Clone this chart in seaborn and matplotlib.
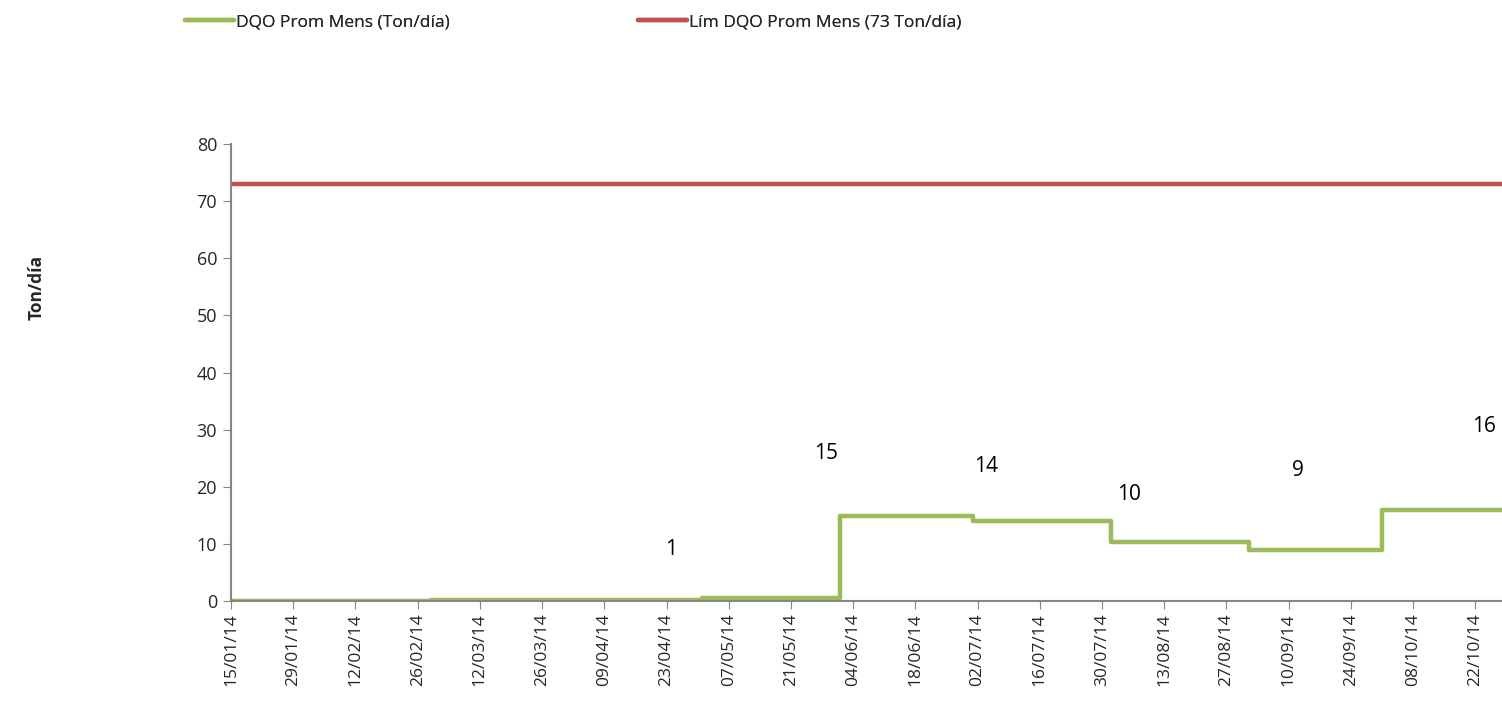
import pandas as pd
import numpy as np
import matplotlib.pyplot as plt
import matplotlib.dates as mdates
import seaborn as sns

# Datos: promedio mensual de DQO (Ton/día), un valor por mes
fechas_mes = ["2014-01-15", "2014-02-01", "2014-03-01", "2014-04-01", "2014-05-01",
              "2014-06-01", "2014-07-01", "2014-08-01", "2014-09-01", "2014-10-01",
              "2014-10-31"]
dqo_prom = [0.05, 0.05, 0.1, 0.2, 0.6, 14.8, 14.0, 10.3, 9.0, 15.9, 15.9]

fechas_lim = ["2014-01-15", "2014-10-31"]
lim_dqo = [73, 73]

# etiquetas de datos (valores redondeados)
etiquetas = ["1", "15", "14", "10", "9", "16"]
fechas_etiq = ["2014-04-24", "2014-05-29", "2014-07-04", "2014-08-05", "2014-09-12", "2014-10-24"]

df = pd.DataFrame({"fecha": pd.to_datetime(fechas_mes), "dqo": dqo_prom})
df_lim = pd.DataFrame({"fecha": pd.to_datetime(fechas_lim), "lim": lim_dqo})

sns.set_style("white")
plt.rcParams["font.family"] = ["Open Sans", "DejaVu Sans"]

verde = "#9BBB59"
rojo = "#C0504D"
gris = "#868686"

fig = plt.figure(figsize=(15.02, 7.09), dpi=100)
ax = fig.add_axes([231 / 1502, 1 - 601 / 709, (1502 - 231) / 1502, (601 - 144) / 709])

sns.lineplot(data=df, x="fecha", y="dqo", ax=ax, color=verde, linewidth=3.2,
             drawstyle="steps-post", label="DQO Prom Mens (Ton/día)")
sns.lineplot(data=df_lim, x="fecha", y="lim", ax=ax, color=rojo, linewidth=3.2,
             label="Lím DQO Prom Mens (73 Ton/día)")

# etiquetas de datos
pos_y = [9.1, 25.9, 23.5, 18.7, 22.9, 30.5]
for txt, f, yy in zip(etiquetas, fechas_etiq, pos_y):
    ax.text(pd.Timestamp(f), yy, txt, ha="center", va="center", fontsize=15, color="black")

ax.set_xlim(pd.Timestamp("2014-01-15"), pd.Timestamp("2014-10-28"))
ax.set_ylim(0, 80)
ax.set_yticks(range(0, 81, 10))
ticks = pd.date_range("2014-01-15", "2014-10-28", freq="14D")
ax.set_xticks(ticks)
ax.xaxis.set_major_formatter(mdates.DateFormatter("%d/%m/%y"))
ax.tick_params(axis="x", rotation=90, labelsize=12.5, length=6, color=gris, direction="out", bottom=True, pad=3)
ax.tick_params(axis="y", labelsize=13, length=6, color=gris, direction="out", left=True, pad=4)
ax.set_xlabel("")
ax.set_ylabel("")
for s in ["top", "right"]:
    ax.spines[s].set_visible(False)
for s in ["left", "bottom"]:
    ax.spines[s].set_color(gris)
    ax.spines[s].set_linewidth(1.5)

fig.text(37 / 1502, 1 - 288 / 709, "Ton/día", rotation=90, ha="center", va="center",
         fontsize=12.5, fontweight="bold")

# leyenda: dos entradas separadas en la parte superior
h, l = ax.get_legend_handles_labels()
ax.get_legend().remove()
for i, x0 in enumerate([185, 638]):
    leg = fig.legend([h[i]], [l[i]], loc="center left", bbox_to_anchor=(x0 / 1502, 1 - 22 / 709),
                     frameon=False, fontsize=12.5, handlelength=2.85, handletextpad=0.1,
                     borderpad=0, borderaxespad=0)
    fig.add_artist(leg)

fig.savefig("out.png", dpi=100)
